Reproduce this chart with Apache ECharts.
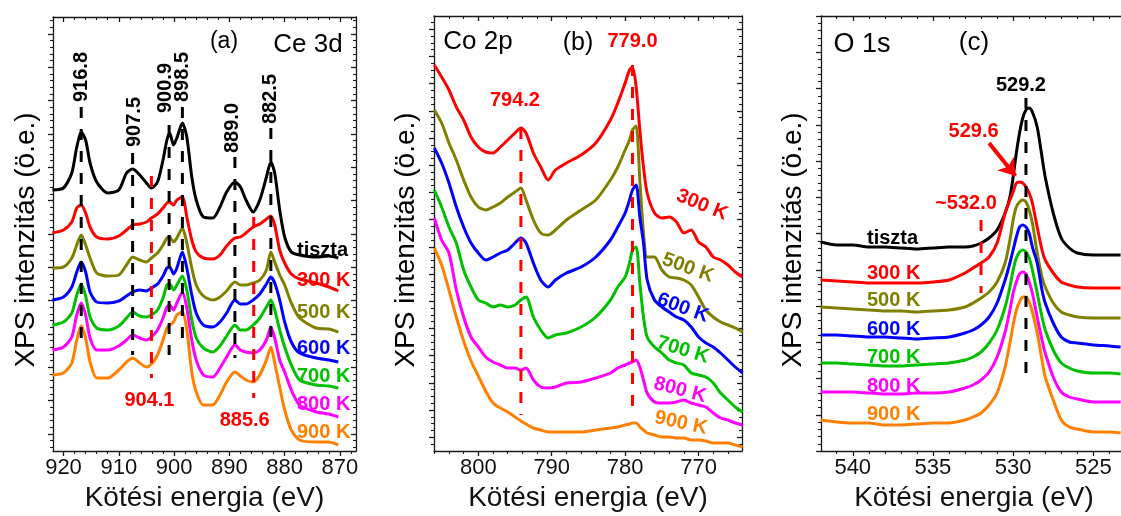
<!DOCTYPE html>
<html>
<head>
<meta charset="utf-8">
<script src="https://cdn.jsdelivr.net/npm/echarts@6/dist/echarts.min.js"></script>
<style>
  html, body { margin: 0; padding: 0; background: #fff; }
  #c { width: 1121px; height: 516px; }
</style>
</head>
<body>
<div id="c"></div>
<script>
// ---------- (a) Ce 3d ----------
const ceEnergy = [922, 920, 918.5, 917.6, 916.8, 916, 915.2, 914, 912, 910, 908.6, 907.5, 906.2, 905, 904.1, 903, 902, 901.3, 900.8, 900.1, 899.5, 898.5, 897.7, 896.8, 896, 894.7, 893, 891.7, 890.5, 889, 888, 887, 885.7, 884.5, 883.3, 882.5, 881.8, 880.9, 880, 878.8, 877.3, 874.3, 872, 870.3];
const ceTiszta = [261, 263, 278, 304, 319, 311, 288, 269, 258, 261, 278, 282, 276, 268, 263, 269, 291, 311, 318, 306, 313, 328, 314, 274, 251, 234, 233, 244, 259, 269, 264, 251, 239, 251, 274, 289, 278, 241, 214, 199, 196, 194, 195, 193];
const ce300 = [218, 221, 229, 243, 246, 238, 224, 214, 212, 215, 221, 226, 227, 229, 233, 237, 243, 248, 249, 246, 251, 254, 234, 211, 199, 193, 192, 196, 205, 213, 214, 218, 224, 227, 232, 235, 226, 201, 188, 177, 172, 168, 164, 160];
const ce500 = [183, 184, 193, 206, 216, 206, 193, 178, 175, 176, 186, 194, 191, 189, 193, 198, 206, 213, 214, 209, 213, 223, 208, 183, 166, 155, 151, 154, 160, 169, 166, 166, 168, 171, 181, 199, 189, 176, 166, 148, 133, 123, 122, 119];
const ce600 = [151, 154, 164, 179, 189, 179, 159, 149, 148, 150, 155, 159, 161, 160, 163, 167, 175, 183, 184, 177, 183, 199, 183, 156, 138, 126, 124, 129, 138, 151, 147, 147, 151, 157, 167, 174, 168, 151, 129, 109, 98, 93, 91, 89];
const ce700 = [126, 129, 138, 156, 167, 155, 134, 123, 121, 125, 133, 139, 135, 134, 136, 141, 153, 166, 167, 161, 166, 175, 161, 131, 113, 103, 99, 105, 115, 126, 121, 121, 126, 133, 144, 151, 141, 121, 104, 86, 71, 66, 65, 63];
const ce800 = [101, 104, 114, 136, 148, 136, 113, 101, 101, 105, 111, 116, 113, 111, 114, 121, 133, 144, 146, 141, 148, 159, 143, 111, 91, 76, 74, 83, 94, 106, 101, 99, 98, 101, 111, 124, 113, 91, 79, 61, 46, 39, 37, 34];
const ce900 = [76, 78, 88, 111, 125, 113, 89, 73, 73, 81, 89, 93, 88, 84, 87, 96, 111, 123, 126, 129, 136, 139, 121, 79, 59, 46, 46, 56, 69, 79, 75, 71, 69, 76, 91, 104, 88, 64, 41, 21, 11, 9, 9, 6];
const cePeaks = [916.8, 907.5, 900.9, 898.5, 889.0, 882.5];
const ceExtra = [904.1, 885.6];

// ---------- (b) Co 2p ----------
const coEnergy = [806, 805, 804, 803, 802, 801, 800, 799, 798, 797, 796, 795, 794.2, 793.5, 792.5, 791.5, 790.5, 789.5, 788, 786, 784, 782, 781, 780, 779.4, 779, 778.5, 778, 777.5, 777, 776, 775, 774, 773, 772, 771, 770, 769, 768, 767, 766, 765, 764];
const co300 = [386, 374, 361, 344, 331, 314, 304, 299, 298, 304, 311, 318, 323, 318, 298, 284, 271, 281, 288, 296, 308, 331, 348, 368, 381, 384, 364, 321, 284, 258, 238, 233, 234, 229, 218, 221, 209, 204, 194, 191, 186, 179, 174];
const co500 = [341, 328, 308, 291, 271, 254, 244, 241, 244, 248, 254, 259, 263, 251, 231, 218, 216, 221, 231, 241, 251, 271, 284, 301, 311, 321, 325, 271, 218, 194, 194, 181, 174, 173, 171, 166, 154, 141, 134, 129, 126, 123, 119];
const co600 = [303, 288, 268, 244, 224, 208, 198, 191, 194, 198, 201, 208, 213, 208, 188, 171, 164, 171, 178, 184, 194, 211, 224, 238, 251, 261, 266, 234, 208, 171, 151, 144, 139, 134, 131, 124, 114, 108, 104, 98, 91, 84, 78];
const co700 = [261, 244, 224, 208, 181, 164, 151, 148, 144, 146, 144, 146, 151, 154, 134, 121, 113, 116, 118, 124, 134, 151, 164, 174, 188, 201, 204, 168, 134, 114, 104, 98, 91, 88, 86, 78, 76, 74, 68, 58, 51, 44, 39];
const co800 = [233, 211, 198, 161, 134, 114, 104, 94, 89, 86, 83, 83, 81, 83, 71, 64, 63, 64, 68, 69, 73, 78, 83, 86, 88, 89, 91, 84, 71, 58, 49, 48, 48, 49, 51, 48, 46, 44, 38, 33, 31, 28, 26];
const co900 = [203, 186, 161, 134, 110, 90, 75, 60, 48, 43, 39, 34, 30, 27, 23, 21, 19, 19, 19, 19, 21, 23, 24, 26, 27, 28, 28, 24, 21, 18, 16, 14, 14, 13, 13, 11, 11, 10, 8, 8, 8, 6, 4];
const coPeaks = [794.2, 779.0];

// ---------- (c) O 1s ----------
const oxEnergy = [542, 541, 540, 539, 538, 537, 536, 535, 534, 533, 532.5, 532, 531.5, 531, 530.5, 530.2, 530, 529.8, 529.6, 529.4, 529.2, 529, 528.8, 528.5, 528.2, 528, 527.5, 527, 526.5, 526, 525, 524, 523.3];
const oxTiszta = [209, 206, 206, 204, 204, 203, 202, 203, 204, 204, 205, 208, 213, 221, 238, 254, 274, 298, 318, 333, 341, 343, 339, 324, 294, 274, 238, 213, 203, 198, 196, 196, 196];
const ox300 = [171, 170, 169, 168, 168, 168, 168, 169, 171, 178, 183, 188, 194, 208, 238, 251, 259, 268, 269, 268, 264, 258, 248, 224, 201, 191, 178, 169, 166, 164, 163, 163, 163];
const ox500 = [144, 143, 142, 141, 140, 140, 139, 140, 141, 144, 148, 153, 159, 169, 188, 211, 231, 244, 249, 251, 249, 241, 228, 198, 174, 164, 148, 139, 136, 134, 133, 133, 133];
const ox600 = [116, 116, 115, 114, 114, 113, 112, 113, 114, 118, 121, 126, 134, 148, 171, 188, 201, 214, 224, 226, 224, 218, 204, 188, 161, 148, 128, 114, 109, 108, 106, 105, 104];
const ox700 = [88, 88, 87, 86, 85, 85, 86, 87, 88, 91, 94, 99, 108, 121, 144, 164, 181, 193, 199, 201, 199, 193, 181, 158, 134, 121, 101, 88, 83, 80, 78, 78, 77];
const ox800 = [59, 59, 59, 58, 57, 57, 58, 58, 59, 63, 66, 71, 79, 94, 119, 141, 158, 169, 177, 179, 177, 169, 158, 134, 111, 98, 74, 59, 54, 52, 49, 49, 49];
const ox900 = [31, 29, 28, 28, 26, 26, 27, 28, 28, 31, 34, 38, 46, 58, 84, 108, 126, 141, 149, 154, 154, 149, 139, 118, 91, 74, 51, 31, 24, 22, 19, 19, 18];
const oxPeaks = [529.2, 529.6, 532.0];

// tick labels of the energy axes
const ceTicks = [920, 910, 900, 890, 880, 870];
const coTicks = [800, 790, 780, 770];
const oxTicks = [540, 535, 530, 525];

const sampleNames = ['tiszta', '300 K', '500 K', '600 K', '700 K', '800 K', '900 K'];
const sampleColors = ['#000000', '#ff0000', '#808000', '#0000ff', '#00c000', '#ff00ff', '#ff8000'];

const FONT = '"Liberation Sans", Arial, sans-serif';
const AX = '#1a1a1a';
const XTITLE = 'Kötési energia (eV)';
const YTITLE = 'XPS intenzitás (ö.e.)';

// panel frames: [left, top, width, height], energy range, intensity range
const panels = [
  { box: [53, 17, 303, 434], lo: 867.1, hi: 921.9, ticks: ceTicks, minorStep: 2, yMax: 434, yFirst: 17, yStep: 33.35, ySub: 5 },
  { box: [434, 16, 308, 435], lo: 764.08, hi: 806.04, ticks: coTicks, minorStep: 2, yMax: 435, yFirst: 13.7, yStep: 27.2, ySub: 4 },
  { box: [821, 16, 306, 435], lo: 522.9, hi: 541.98, ticks: oxTicks, minorStep: 1, yMax: 435, yFirst: 0, yStep: 36.25, ySub: 5 }
];

const grids = [], xAxes = [], yAxes = [];
panels.forEach((p, g) => {
  grids.push({ left: p.box[0], top: p.box[1], width: p.box[2], height: p.box[3], containLabel: false, outerBoundsMode: 'none' });

  const minors = [];
  for (let v = Math.ceil(p.lo / p.minorStep) * p.minorStep; v < p.hi; v += p.minorStep) {
    const r = +v.toFixed(3);
    if (!p.ticks.includes(r)) minors.push(r);
  }
  const xb = { type: 'value', gridIndex: g, min: p.lo, max: p.hi, inverse: true, splitLine: { show: false },
               axisLabel: { show: false }, axisLine: { show: false, onZero: false } };
  const line = { show: true, onZero: false, lineStyle: { color: AX, width: 1.3 } };
  const tk = (len, vals, inside) => ({ show: true, inside, length: len, customValues: vals, lineStyle: { color: AX, width: len > 4 ? 1.3 : 1.1 } });
  xAxes.push(
    Object.assign({}, xb, { position: 'bottom', axisLine: line, axisTick: tk(5, p.ticks, false),
      axisLabel: { show: true, customValues: p.ticks, margin: 6, fontSize: 22, color: '#111', fontFamily: FONT },
      name: XTITLE, nameLocation: 'middle', nameGap: 33, nameTextStyle: { fontSize: 28, color: '#111', fontFamily: FONT } }),
    Object.assign({}, xb, { position: 'bottom', axisTick: tk(3, minors, false) }),
    Object.assign({}, xb, { position: 'top', axisLine: line, axisTick: tk(5, p.ticks, true) }),
    Object.assign({}, xb, { position: 'top', axisTick: tk(3, minors, true) })
  );

  const yMaj = [], yMin = [];
  for (let k = 0; p.yFirst + k * p.yStep <= p.yMax + 0.01; k++) yMaj.push(+(p.yFirst + k * p.yStep).toFixed(2));
  for (let v = p.yFirst - p.yStep; v <= p.yMax; v += p.yStep) {
    for (let s = 1; s < p.ySub; s++) {
      const m = v + s * p.yStep / p.ySub;
      if (m > 0.5 && m < p.yMax - 0.5) yMin.push(+m.toFixed(2));
    }
  }
  const yb = { type: 'value', gridIndex: g, min: 0, max: p.yMax, splitLine: { show: false },
               axisLabel: { show: false }, axisLine: { show: false, onZero: false } };
  yAxes.push(
    Object.assign({}, yb, { position: 'left', axisLine: line, axisTick: tk(5, yMaj, false) }),
    Object.assign({}, yb, { position: 'left', axisTick: tk(3, yMin, false) }),
    Object.assign({}, yb, { position: 'right', axisLine: line, axisTick: tk(5, yMaj, true) }),
    Object.assign({}, yb, { position: 'right', axisTick: tk(3, yMin, true) })
  );
});

function curve(g, energy, vals, i) {
  return {
    type: 'line', name: sampleNames[i], xAxisIndex: 4 * g, yAxisIndex: 4 * g,
    data: energy.map((e, k) => [e, vals[k]]),
    symbol: 'none', showSymbol: false, smooth: 0.25, silent: true, animation: false, z: 3,
    lineStyle: { color: sampleColors[i], width: 3 }, itemStyle: { color: sampleColors[i] }
  };
}
function guide(g, e, top, bottom, color) {
  return {
    type: 'line', xAxisIndex: 4 * g, yAxisIndex: 4 * g, data: [[e, top], [e, bottom]],
    symbol: 'none', silent: true, animation: false, z: 6,
    lineStyle: { color, width: 3, type: [11, 11] }
  };
}

const series = [];
[ceTiszta, ce300, ce500, ce600, ce700, ce800, ce900].forEach((v, i) => series.push(curve(0, ceEnergy, v, i)));
[co300, co500, co600, co700, co800, co900].forEach((v, i) => series.push(curve(1, coEnergy, v, i + 1)));
[oxTiszta, ox300, ox500, ox600, ox700, ox800, ox900].forEach((v, i) => series.push(curve(2, oxEnergy, v, i)));

// dashed peak guides
const ceSpans = [[344, 113], [298, 96], [326, 96], [344, 108], [294, 93], [323, 113]];
cePeaks.forEach((e, i) => series.push(guide(0, e, ceSpans[i][0], ceSpans[i][1], '#000')));
series.push(guide(0, ceExtra[0], 275, 73, '#ff0000'));
series.push(guide(0, ceExtra[1], 234, 53, '#ff0000'));
series.push(guide(1, coPeaks[0], 323, 36, '#ff0000'));
series.push(guide(1, coPeaks[1], 386, 36, '#ff0000'));
series.push(guide(2, oxPeaks[0], 353, 76, '#000'));
series.push(guide(2, oxPeaks[2], 231, 158, '#ff0000'));

// arrow pointing at the 529.6 eV maximum of the 300 K O 1s spectrum
series.push({
  type: 'line', xAxisIndex: 8, yAxisIndex: 8, data: [], silent: true, animation: false,
  markLine: {
    silent: true, animation: false, symbol: ['none', 'arrow'], symbolSize: 16,
    label: { show: false }, lineStyle: { color: '#ff0000', width: 4, type: 'solid' },
    data: [[{ coord: [531.5, 308] }, { coord: [529.85, 275] }]]
  }
});

const chart = echarts.init(document.getElementById('c'), null, { renderer: 'canvas', width: 1121, height: 516 });
chart.setOption({
  animation: false,
  backgroundColor: '#ffffff',
  grid: grids, xAxis: xAxes, yAxis: yAxes, series
});

function xpx(g, e) { return chart.convertToPixel({ xAxisIndex: 4 * g }, e); }
function txt(text, x, y, o) {
  o = o || {};
  return {
    type: 'text', x, y, rotation: o.rot || 0, silent: true, z: 20,
    style: { text, fill: o.color || '#000', fontSize: o.size || 20, fontWeight: o.bold ? 'bold' : 'normal',
             fontFamily: FONT, align: o.align || 'center', verticalAlign: 'middle' }
  };
}
const R90 = Math.PI / 2;
const g = [];
// axis titles
g.push(txt(YTITLE, 26, 240, { size: 28, rot: R90 }));
g.push(txt(YTITLE, 406, 240, { size: 28, rot: R90 }));
g.push(txt(YTITLE, 793, 240, { size: 28, rot: R90 }));
// panel titles
g.push(txt('(a)', 224, 42, { size: 23 }));
g.push(txt('Ce 3d', 308, 45, { size: 26 }));
g.push(txt('Co 2p', 478, 42, { size: 26 }));
g.push(txt('(b)', 578, 43, { size: 25 }));
g.push(txt('O 1s', 862, 45, { size: 27 }));
g.push(txt('(c)', 974, 43, { size: 26 }));

// Ce 3d peak energies
const ceLabY = [77, 122, 88, 77, 128, 99];
const ceLabDx = [0, 1.5, -4, 0, -2, 0];
cePeaks.forEach((e, i) => g.push(txt(e.toFixed(1), xpx(0, e) + ceLabDx[i], ceLabY[i], { size: 20, bold: true, rot: R90 })));
g.push(txt(ceExtra[0].toFixed(1), xpx(0, ceExtra[0]) - 2, 400, { size: 20, bold: true, color: '#ff0000' }));
g.push(txt(ceExtra[1].toFixed(1), xpx(0, ceExtra[1]) - 9, 420, { size: 20, bold: true, color: '#ff0000' }));
// Co 2p peak energies
g.push(txt(coPeaks[0].toFixed(1), xpx(1, coPeaks[0]) - 6, 100, { size: 20, bold: true, color: '#ff0000' }));
g.push(txt(coPeaks[1].toFixed(1), xpx(1, coPeaks[1]), 41, { size: 20, bold: true, color: '#ff0000' }));
// O 1s peak energies
g.push(txt(oxPeaks[0].toFixed(1), xpx(2, oxPeaks[0]) - 5, 85, { size: 20, bold: true }));
g.push(txt(oxPeaks[1].toFixed(1), xpx(2, oxPeaks[1]) - 46, 131, { size: 20, bold: true, color: '#ff0000' }));
g.push(txt('~' + oxPeaks[2].toFixed(1), xpx(2, oxPeaks[2]) - 15, 203, { size: 20, bold: true, color: '#ff0000' }));

// sample names
const ceNameY = [250, 280, 312, 348, 376, 404, 432];
sampleNames.forEach((n, i) => g.push(txt(n, 297, ceNameY[i], { size: 20, bold: true, color: sampleColors[i], align: 'left' })));
const coNamePos = [[702, 205, 22], [688, 268, 20], [683, 308, 20], [683, 350, 17], [680, 390, 15], [681, 423, 12]];
coNamePos.forEach((p, i) => g.push(txt(sampleNames[i + 1], p[0], p[1], { size: 20, bold: true, color: sampleColors[i + 1], rot: -p[2] * Math.PI / 180 })));
const oxNameY = [238, 273, 300, 329, 357, 386, 414];
sampleNames.forEach((n, i) => g.push(txt(n, 867, oxNameY[i], { size: 20, bold: true, color: sampleColors[i], align: 'left' })));

chart.setOption({ graphic: g });
</script>
</body>
</html>
